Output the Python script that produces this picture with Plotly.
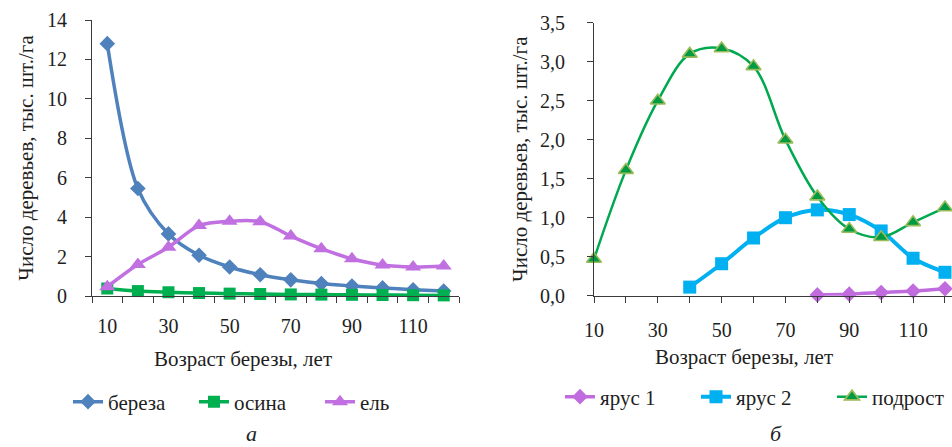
import plotly.graph_objects as go

# Возраст березы, лет
age = [10, 20, 30, 40, 50, 60, 70, 80, 90, 100, 110, 120]

# (а) Число деревьев по породам, тыс. шт./га
bereza = [12.8, 5.45, 3.15, 2.07, 1.47, 1.08, 0.82, 0.63, 0.51, 0.41, 0.32, 0.25]
osina = [0.38, 0.25, 0.19, 0.15, 0.12, 0.10, 0.08, 0.07, 0.06, 0.05, 0.04, 0.03]
el = [0.47, 1.60, 2.47, 3.57, 3.79, 3.77, 3.04, 2.40, 1.89, 1.57, 1.47, 1.52]

# (б) Ель по ярусам и подрост, тыс. шт./га
age_yarus1 = [80, 90, 100, 110, 120]
yarus1 = [0.01, 0.02, 0.04, 0.06, 0.09]
age_yarus2 = [40, 50, 60, 70, 80, 90, 100, 110, 120]
yarus2 = [0.11, 0.41, 0.74, 1.00, 1.10, 1.04, 0.83, 0.48, 0.30]
podrost = [0.47, 1.61, 2.50, 3.10, 3.17, 2.94, 2.00, 1.27, 0.855, 0.75, 0.94, 1.13]

label_ages = [10, 30, 50, 70, 90, 110]

W, H = 952, 447
FONT = "Liberation Serif, Times New Roman, Tinos, DejaVu Serif, serif"
TXT = "#1e1e1e"
AX = "#3a3a3a"

fig = go.Figure()


def add_line(x, y, name, color, symbol, size, width, xa, ya, legend, mline=None):
    fig.add_trace(go.Scatter(
        x=x, y=y, name=name, mode="lines+markers",
        line=dict(color=color, width=width, shape="spline", smoothing=0.9),
        marker=dict(symbol=symbol, size=size, color=color,
                    line=mline or dict(width=0)),
        xaxis=xa, yaxis=ya, legend=legend, cliponaxis=False,
    ))


add_line(age, bereza, "береза", "#4F81BD", "diamond", 12, 3.5, "x", "y", "legend")
add_line(age, osina, "осина", "#00B050", "square", 12, 3.5, "x", "y", "legend")
add_line(age, el, "ель", "#C070E0", "triangle-up", 14, 3.5, "x", "y", "legend")

add_line(age_yarus1, yarus1, "ярус 1", "#C06CDF", "diamond", 12, 3.5, "x2", "y2", "legend2")
add_line(age_yarus2, yarus2, "ярус 2", "#00B0F0", "square", 13, 4, "x2", "y2", "legend2")
fig.add_trace(go.Scatter(
    x=age, y=podrost, name="подрост", mode="lines+markers",
    line=dict(color="#00A84F", width=2.5, shape="spline", smoothing=1.0),
    marker=dict(symbol="triangle-up", size=13, color="#009A44",
                line=dict(color="#9BBB59", width=1.6)),
    xaxis="x2", yaxis="y2", legend="legend2", cliponaxis=False,
))

tickfont = dict(family=FONT, size=20, color=TXT)
common_axis = dict(showline=True, linecolor=AX, linewidth=1, showgrid=False,
                   zeroline=False, tickfont=tickfont, tickcolor=AX, tickwidth=1,
                   automargin=False)

ytitle = "Число деревьев, тыс. шт./га"
title_font = dict(family=FONT, size=21, color=TXT)
legend_font = dict(family=FONT, size=21, color=TXT)

fig.update_layout(
    width=W, height=H,
    margin=dict(l=0, r=0, t=0, b=0, autoexpand=False),
    paper_bgcolor="white", plot_bgcolor="white",
    separators=", ",
    font=dict(family=FONT, color=TXT),
    xaxis=dict(
        domain=[92 / W, 459 / W], range=[5, 125], anchor="y",
        tickmode="array", tickvals=label_ages, ticktext=[str(v) for v in label_ages],
        minor=dict(tickmode="linear", tick0=5, dtick=10, ticks="outside",
                   ticklen=6, tickcolor=AX, tickwidth=1, showgrid=False),
        ticks="", ticklen=0, ticklabelstandoff=12,
        **common_axis,
    ),
    yaxis=dict(
        domain=[1 - 296 / H, 1 - 20 / H], range=[0, 14], dtick=2, anchor="x",
        title=dict(text=ytitle, font=title_font, standoff=7),
        ticks="outside", ticklen=6, ticklabelstandoff=14,
        **common_axis,
    ),
    xaxis2=dict(
        domain=[594 / W, 1.0], range=[10, 122.2], anchor="y2",
        tickmode="array", tickvals=age,
        ticktext=[str(v) if v in label_ages else "" for v in age],
        ticks="outside", ticklen=6, ticklabelstandoff=10,
        **common_axis,
    ),
    yaxis2=dict(
        domain=[1 - 295.7 / H, 1 - 22.7 / H], range=[0, 3.5], dtick=0.5,
        tickformat=".1f", anchor="x2",
        title=dict(text=ytitle, font=title_font, standoff=6),
        ticks="outside", ticklen=6, ticklabelstandoff=18,
        **common_axis,
    ),
    legend=dict(orientation="h", x=68 / W, xanchor="left", y=1 - 402 / H,
                yanchor="middle", font=legend_font,
                bgcolor="rgba(0,0,0,0)", itemwidth=30,
                entrywidth=81, entrywidthmode="pixels"),
    legend2=dict(orientation="h", x=560 / W, xanchor="left", y=1 - 397 / H,
                 yanchor="middle", font=legend_font,
                 bgcolor="rgba(0,0,0,0)", itemwidth=30,
                 entrywidth=91, entrywidthmode="pixels"),
    annotations=[
        dict(text="Возраст березы, лет", x=243 / W, y=1 - 359 / H, xref="paper", yref="paper",
             xanchor="center", yanchor="middle", showarrow=False, font=title_font),
        dict(text="Возраст березы, лет", x=744 / W, y=1 - 357 / H, xref="paper", yref="paper",
             xanchor="center", yanchor="middle", showarrow=False, font=title_font),
        dict(text="<i>а</i>", x=251 / W, y=1 - 433 / H, xref="paper", yref="paper",
             xanchor="center", yanchor="middle", showarrow=False,
             font=dict(family=FONT, size=22, color=TXT)),
        dict(text="<i>б</i>", x=776 / W, y=1 - 433 / H, xref="paper", yref="paper",
             xanchor="center", yanchor="middle", showarrow=False,
             font=dict(family=FONT, size=22, color=TXT)),
    ],
)

fig.write_html("out.html")
